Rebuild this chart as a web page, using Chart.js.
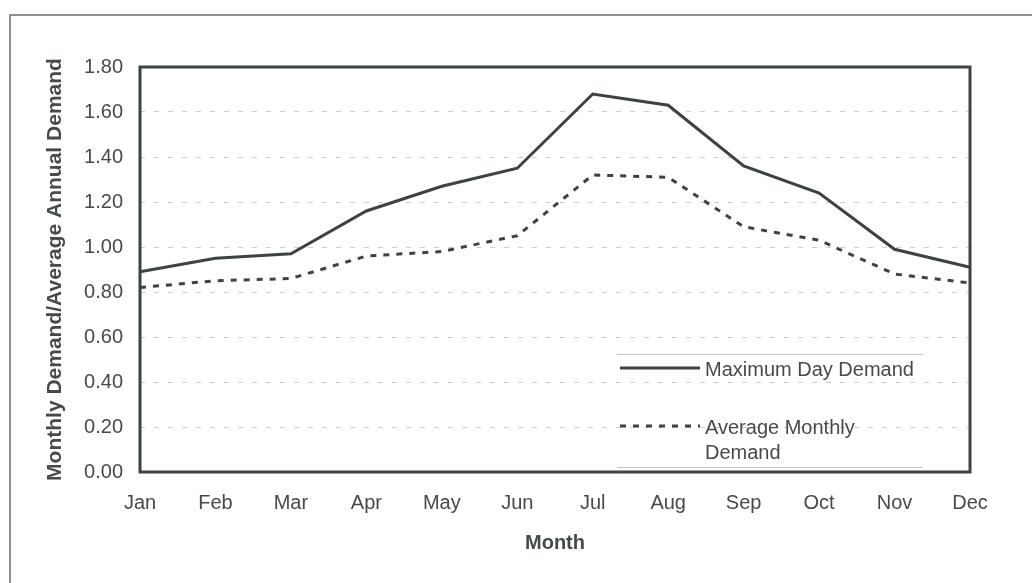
<!DOCTYPE html>
<html>
<head>
<meta charset="utf-8">
<script src="https://cdn.jsdelivr.net/npm/chart.js@4.4.1/dist/chart.umd.min.js"></script>
<style>
  html, body { margin: 0; padding: 0; background: #ffffff; }
  #wrap { width: 1032px; height: 583px; position: relative; }
</style>
</head>
<body>
<div id="wrap"><canvas id="c" width="1032" height="583"></canvas></div>
<script>
const months = ['Jan','Feb','Mar','Apr','May','Jun','Jul','Aug','Sep','Oct','Nov','Dec'];
const maxDayDemand = [0.89, 0.95, 0.97, 1.16, 1.27, 1.35, 1.68, 1.63, 1.36, 1.24, 0.99, 0.91];
const avgMonthlyDemand = [0.82, 0.85, 0.86, 0.96, 0.98, 1.05, 1.32, 1.31, 1.09, 1.03, 0.88, 0.84];
const seriesLabels = [['Maximum Day Demand'], ['Average Monthly', 'Demand']];
const yAxisTitle = 'Monthly Demand/Average Annual Demand';
const xAxisTitle = 'Month';

const INK = '#3d4343';
const TEXT = '#454a4a';
const FONT = "'Liberation Sans', Arial, sans-serif";

const framePlugin = {
  id: 'frame',
  beforeDraw(chart) {
    const ctx = chart.ctx;
    ctx.save();
    ctx.fillStyle = '#ffffff';
    ctx.fillRect(0, 0, chart.width, chart.height);
    ctx.strokeStyle = '#6a6e6e';
    ctx.lineWidth = 1.5;
    ctx.beginPath();
    ctx.moveTo(10, chart.height);
    ctx.lineTo(10, 15);
    ctx.lineTo(chart.width, 15);
    ctx.stroke();
    ctx.restore();
  },
  afterDatasetsDraw(chart) {
    const ctx = chart.ctx;
    const a = chart.chartArea;
    ctx.save();
    ctx.strokeStyle = INK;
    ctx.lineWidth = 3;
    ctx.strokeRect(a.left, a.top, a.right - a.left, a.bottom - a.top);
    ctx.restore();
  }
};

const legendPlugin = {
  id: 'insideLegend',
  afterDraw(chart) {
    const ctx = chart.ctx;
    const x0 = 620, x1 = 700, tx = 705;
    const rows = [368, 426];
    ctx.save();
    ctx.strokeStyle = '#c4c6c6';
    ctx.lineWidth = 1;
    ctx.beginPath();
    ctx.moveTo(617, 354.5); ctx.lineTo(923, 354.5);
    ctx.moveTo(617, 467.5); ctx.lineTo(923, 467.5);
    ctx.stroke();
    chart.data.datasets.forEach((ds, i) => {
      const y = rows[i];
      ctx.strokeStyle = ds.borderColor;
      ctx.lineWidth = ds.borderWidth;
      ctx.setLineDash(ds.borderDash || []);
      ctx.beginPath();
      ctx.moveTo(x0, y); ctx.lineTo(x1, y);
      ctx.stroke();
      ctx.setLineDash([]);
      ctx.fillStyle = TEXT;
      ctx.font = '20px ' + FONT;
      ctx.textBaseline = 'middle';
      ctx.textAlign = 'left';
      seriesLabels[i].forEach((t, k) => {
        ctx.fillText(t, tx, y + 2 + k * 25);
      });
    });
    ctx.restore();
  }
};

new Chart(document.getElementById('c'), {
  type: 'line',
  data: {
    labels: months,
    datasets: [
      {
        label: seriesLabels[0].join(' '),
        data: maxDayDemand,
        borderColor: INK,
        borderWidth: 3,
        pointRadius: 0,
        tension: 0,
        fill: false
      },
      {
        label: seriesLabels[1].join(' '),
        data: avgMonthlyDemand,
        borderColor: INK,
        borderWidth: 3,
        borderDash: [6, 7],
        pointRadius: 0,
        tension: 0,
        fill: false
      }
    ]
  },
  options: {
    responsive: false,
    animation: false,
    devicePixelRatio: 1,
    layout: { padding: { left: 39, right: 62, top: 67, bottom: 0 } },
    plugins: {
      legend: { display: false },
      tooltip: { enabled: false }
    },
    scales: {
      x: {
        type: 'category',
        offset: false,
        grid: { display: false, drawTicks: false },
        border: { display: false },
        ticks: {
          color: TEXT,
          font: { family: FONT, size: 20 },
          padding: 19,
          maxRotation: 0,
          autoSkip: false
        },
        title: {
          display: true,
          text: xAxisTitle,
          color: TEXT,
          font: { family: FONT, size: 20, weight: 'bold' },
          padding: { top: 0, bottom: 28 }
        },
        afterFit(scale) { scale.height = 111; }
      },
      y: {
        min: 0,
        max: 1.8,
        grid: {
          drawTicks: false,
          color: (c) => (c.tick && (c.tick.value <= 0.001 || c.tick.value >= 1.799)) ? 'rgba(0,0,0,0)' : '#cdcfcf',
          lineWidth: 1
        },
        border: { display: false, dash: [5, 9] },
        ticks: {
          stepSize: 0.2,
          color: TEXT,
          font: { family: FONT, size: 20 },
          padding: 17,
          callback: (v) => Number(v).toFixed(2)
        },
        title: {
          display: true,
          text: yAxisTitle,
          color: TEXT,
          font: { family: FONT, size: 21, weight: 'bold' },
          padding: { top: 4, bottom: 0 }
        },
        afterFit(scale) { scale.width = 101; }
      }
    }
  },
  plugins: [framePlugin, legendPlugin]
});
</script>
</body>
</html>
